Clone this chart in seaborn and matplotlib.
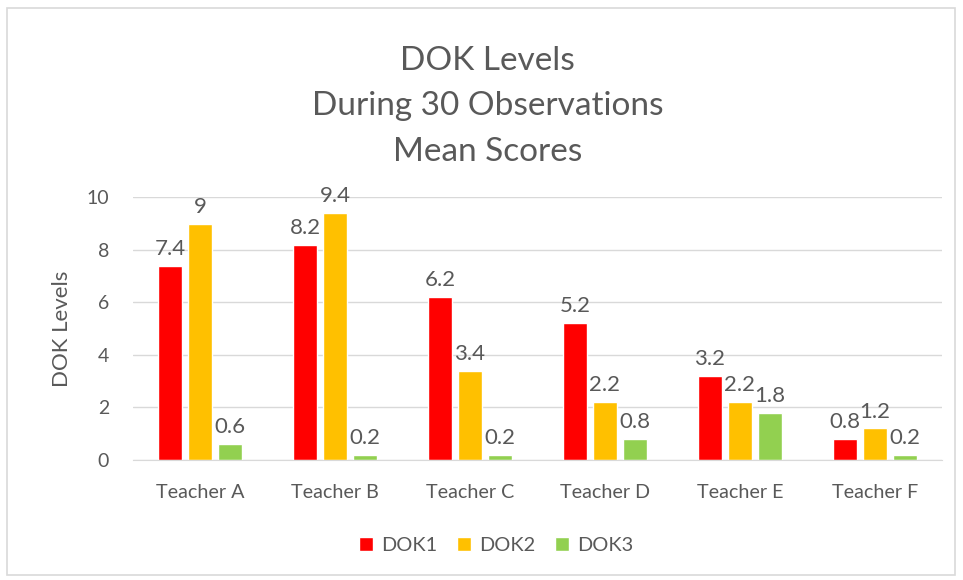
import pandas as pd
import matplotlib.pyplot as plt
import seaborn as sns
from matplotlib.patches import Rectangle

# data
teachers = ["Teacher A", "Teacher B", "Teacher C", "Teacher D", "Teacher E", "Teacher F"]
dok1 = [7.4, 8.2, 6.2, 5.2, 3.2, 0.8]
dok2 = [9, 9.4, 3.4, 2.2, 2.2, 1.2]
dok3 = [0.6, 0.2, 0.2, 0.8, 1.8, 0.2]
levels = ["DOK1", "DOK2", "DOK3"]
colors = ["#FF0000", "#FFC000", "#92D050"]

df = pd.DataFrame({"teacher": teachers, "DOK1": dok1, "DOK2": dok2, "DOK3": dok3})
long_df = df.melt(id_vars="teacher", var_name="level", value_name="score")

sns.set_style("white")
plt.rcParams['font.family'] = ['Lato', 'DejaVu Sans']
grey = "#595959"

fig = plt.figure(figsize=(9.63, 5.8), dpi=100)
ax = fig.add_axes([0.1376, 0.2069, 0.8411, 0.4529])

sns.barplot(data=long_df, x="teacher", y="score", hue="level", hue_order=levels,
            palette=colors, saturation=1, width=0.667, gap=0.2, ax=ax, legend=True)

# value labels
for cont in ax.containers:
    labels = ["%g" % b.get_height() for b in cont]
    ax.bar_label(cont, labels=labels, padding=5, fontsize=16, color=grey)

ax.set_ylim(0, 10)
ax.set_yticks(range(0, 11, 2))
ax.set_xlim(-0.5, 5.5)
ax.grid(axis="y", color="#D9D9D9", linewidth=1)
ax.set_axisbelow(True)
for s in ["top", "right", "left"]:
    ax.spines[s].set_visible(False)
ax.spines["bottom"].set_color("#D9D9D9")
ax.tick_params(axis="both", length=0, labelcolor=grey)
ax.tick_params(axis="y", labelsize=14, pad=17)
ax.tick_params(axis="x", labelsize=14.2, pad=17)
ax.set_xlabel("")
ax.set_ylabel("DOK Levels", fontsize=16, color=grey, labelpad=10)

fig.text(0.506, 0.817, "DOK Levels\nDuring 30 Observations\nMean Scores",
         ha="center", va="center", fontsize=24, color=grey, linespacing=1.65)

handles, labs = ax.get_legend_handles_labels()
ax.get_legend().remove()
fig.legend(handles, labs, loc="center", bbox_to_anchor=(0.515, 0.06), ncol=3, frameon=False,
           fontsize=14.4, labelcolor=grey, handlelength=0.7, handleheight=0.7,
           handletextpad=0.4, columnspacing=1.0)

# chart border
fig.patches.append(Rectangle((0.007, 0.008), 0.985, 0.978, transform=fig.transFigure,
                             fill=False, edgecolor="#D9D9D9", linewidth=1.2))

fig.savefig("out.png", dpi=100)
